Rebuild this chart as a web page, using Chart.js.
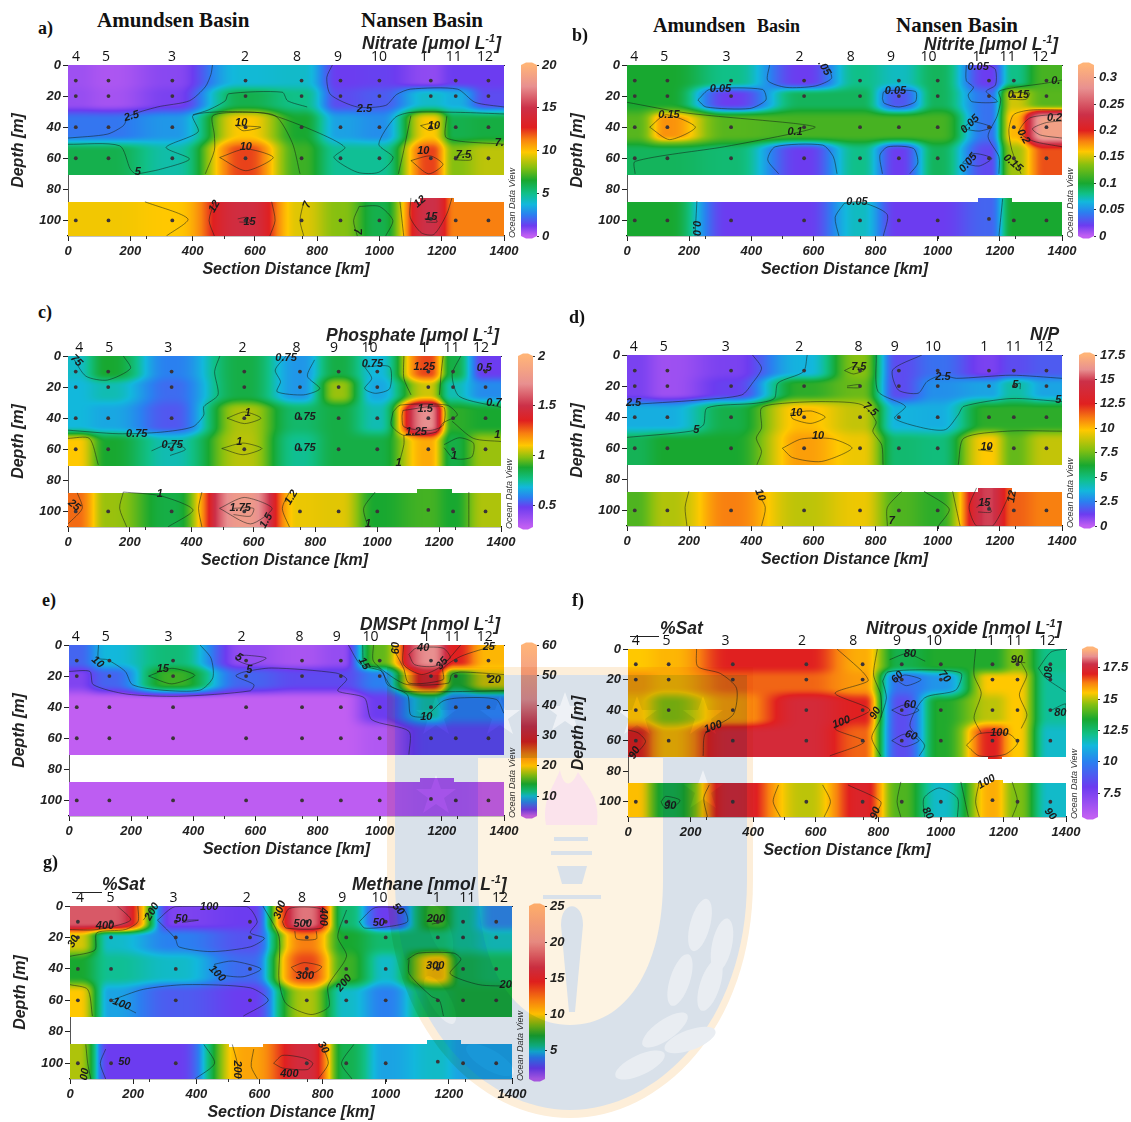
<!DOCTYPE html>
<html><head><meta charset="utf-8">
<style>
html,body{margin:0;padding:0;background:#fff;width:1131px;height:1122px;overflow:hidden}
canvas{position:absolute}
.t{position:absolute;white-space:nowrap;transform:translateY(-50%);color:#1a1a1a;line-height:1}
.l{font:bold 18px "Liberation Serif",serif;color:#111}
.b{font:bold 21px "Liberation Serif",serif;color:#111}
.b2{font:bold 20px "Liberation Serif",serif;color:#111}
.s{font:bold 18px "Liberation Serif",serif;color:#111}
.h{font:italic bold 17.5px "Liberation Sans",sans-serif;color:#222}
.h sup{font-size:11px;line-height:0}
.r{position:absolute;height:1px;background:#222}
#wm{position:absolute;left:0;top:0;mix-blend-mode:multiply;pointer-events:none}
</style>
<script src="https://cdn.jsdelivr.net/npm/chart.js@4/dist/chart.umd.min.js"></script>
</head><body>
<svg id="wm" width="1131" height="1122" viewBox="0 0 1131 1122">
<defs><polygon id="st" points="0,-20 5,-6 20,-6 8,3 13,18 0,9 -13,18 -8,3 -20,-6 -5,-6"/>
<ellipse id="lf" cx="0" cy="0" rx="10" ry="27"/></defs>
<path d="M387 667H753V880C753 1030 660 1118 570 1118C480 1118 387 1030 387 880Z" fill="#fdeed9"/>
<path d="M395 675H747V880C747 1025 655 1110 570 1110C485 1110 395 1025 395 880Z" fill="#d9e1ea"/>
<path d="M478 758H663V880C663 970 625 1025 570 1025C515 1025 478 970 478 880Z" fill="#fdf3e2"/>
<g fill="#fff" opacity=".55"><use href="#st" x="436" y="716"/><use href="#st" x="500" y="716"/><use href="#st" x="565" y="712"/><use href="#st" x="637" y="716"/><use href="#st" x="703" y="716"/><use href="#st" x="436" y="795"/><use href="#st" x="703" y="790"/></g>
<path d="M546 825C542 800 552 790 560 770C563 785 570 790 578 772C590 790 600 800 597 825Z" fill="#fbe3ec"/>
<g fill="#d9e1ea"><rect x="554" y="837" width="34" height="4"/><rect x="551" y="851" width="41" height="4"/><path d="M557 866H587L582 884H562Z"/><rect x="543" y="895" width="58" height="4"/><path d="M561 925C561 900 583 900 583 925L575 1012H569Z"/></g>
<g fill="#e9edf2"><use href="#lf" transform="translate(700 925) rotate(15)"/><use href="#lf" transform="translate(722 945) rotate(12)"/><use href="#lf" transform="translate(680 980) rotate(18)"/><use href="#lf" transform="translate(710 985) rotate(18)"/><use href="#lf" transform="translate(665 1030) rotate(55)"/><use href="#lf" transform="translate(640 1065) rotate(65)"/><use href="#lf" transform="translate(690 1040) rotate(70)"/><use href="#lf" transform="translate(440 930) rotate(-20)"/><use href="#lf" transform="translate(440 1000) rotate(-30)"/><use href="#lf" transform="translate(490 1060) rotate(-60)"/></g>
</svg>
<script>
// ---------- shared axes ----------
const stationKm=[25,130,335,570,750,875,1000,1165,1245,1350];
const stationNames=['4','5','3','2','8','9','10','1','11','12'];
const depthRows=[10,20,40,60,100];
const xTicks=[0,200,400,600,800,1000,1200,1400];
const yTicks=[0,20,40,60,80,100];
const minorKm=[250,500,750,1000,1250];
const paletteColors=['#c15ff2','#6c3cf0','#2a80f0','#12b8dc','#10c088','#18a830','#86c010','#ffc800','#f88010','#e02020','#cc3048','#e89090','#ffb478'];

// ---------- a) nitrate ----------
const nitrateValues=[[.5,.3,.8,3.8,4,1.2,1.3,.7,1.2,1.2],[.6,.4,1,6,5,1.5,1.8,4,3.5,1.5],[2.3,2.3,3,9.8,6.5,3.2,2.8,9.8,6,6.2],[6,6,4.5,12.2,7,4.8,4.8,12.2,8,8.8],[9.6,9.6,9.8,14.6,9.3,8,6,15,11.3,11.3]];
const nitrateKnots=[0,1.2,2.5,3.7,5,6.5,8,9.8,11.3,12.7,15,17.5,20];
const nitrateBar=[0,5,10,15,20];
const nitrateTop=[26,122,334,568,735,867,999,1143,1239,1339];
const nitrateContours=[
[[0,47],[126,44.5],[178,39],[195,33],[287,27],[390,23],[441,14],[459,6],[464,0]],
[[849,0],[831,8],[843,19],[929,27],[1020,26],[1055,19],[1100,15.5],[1250,15.5],[1307,24],[1400,27]],
[[0,51],[166,52],[200,67],[218,70.5]],
[[218,70.3],[298,67],[390,60.5],[315,53],[418,43],[401,32.5],[516,30],[642,31.5],[797,43],[889,53],[854,59.5],[929,69],[998,69],[1044,59.5],[998,51],[1049,34],[1101,30.5],[1261,30.5],[1400,31.5]],
[[441,70],[470,55],[470,45],[465,32.6],[560,30.5],[665,32.6],[720,50],[745,70]],
[[401,32],[450,29],[505,23],[516,18.5],[688,17.5],[705,23],[768,27]],
[[487,59.5],[571,54],[659,59.5],[571,68],[487,59.5]],
[[539,39],[619,40],[562,42.3],[539,39]],
[[1061,70],[1078,55],[1101,32.6]],[[1216,33],[1216,47],[1400,51]],
[[1101,61.5],[1164,58.5],[1204,64],[1158,70],[1101,61.5]],
[[1132,39],[1170,37.5],[1190,40],[1160,42],[1132,39]],
[[1240,59],[1290,57],[1295,61],[1240,61]],
[[247,88],[385,99],[316,110]],[[470,88],[453,100],[470,110]],[[654,88],[665,100],[648,110]],
[[757,88],[745,100],[757,110]],[[935,91],[917,100],[929,110]],[[935,91],[1000,91],[1043,100],[1020,110]],
[[1066,88],[1078,110]],[[1101,85.5],[1099,98],[1135,108],[1175,109],[1216,96],[1233,85.5]],
[[545,99],[575,98],[585,101],[550,101]],[[1145,99],[1175,98],[1185,101],[1150,101]]];
const nitrateLabels=[[204,33,'2.5',-15],[952,28,'2.5',0],[556,37,'10',0],[571,53,'10',0],[1175,39,'10',0],[1141,55,'10',0],[1270,58,'7.5',0],[224,69,'5',0],[1385,50,'7.',0],[583,101,'15',0],[1166,98,'15',0],[470,91,'12',-60],[929,107,'7',90],[768,90,'7',-70],[1130,88,'12',-40]];

// ---------- b) nitrite ----------
const nitriteValues=[[.1,.1,.08,.02,.08,.07,.09,.02,.08,.115],[.1,.1,.02,.09,.09,.03,.09,.04,.15,.12],[.12,.175,.12,.115,.115,.115,.115,.04,.165,.3],[.09,.09,.085,.02,.08,.02,.09,.025,.14,.19],[.1,.1,.02,.02,.07,.02,.02,.035,.1,.1]];
const nitriteKnots=[0,.02,.045,.065,.08,.1,.135,.16,.18,.2,.23,.28,.3243];
const nitriteBar=[0,.05,.1,.15,.2,.25,.3];
const nitriteTop=[23,120,320,555,720,850,970,1125,1225,1330];
const nitriteContours=[
[[0,24],[196,31],[535,37.5],[606,40],[535,44],[313,52.6],[26,62],[26,70]],
[[73,40],[126,32],[220,40],[137,48],[73,40]],
[[228,22.5],[266,15.7],[436,15.7],[447,22.5],[395,28],[254,27],[228,22.5]],
[[459,0],[453,10],[512,14.4],[606,13.5],[658,8.6],[647,1]],
[[488,70],[453,61],[477,52.6],[629,51.5],[664,59],[676,70]],
[[822,21.5],[828,17],[928,17],[928,23.6],[875,27],[828,24.6],[822,21.5]],
[[822,70],[814,58],[840,52.6],[922,53.7],[936,63],[910,70]],
[[1092,0],[1092,10],[1115,14.4],[1098,19.3],[1110,23.6],[1192,23.6],[1156,17],[1186,12.9],[1186,3],[1163,0]],
[[1080,41],[1110,36.5],[1174,40],[1133,42.5],[1080,41]],
[[1080,63],[1115,57],[1174,60],[1133,65],[1080,63]],
[[1197,70],[1197,59],[1162,46],[1191,33],[1203,22.5],[1197,17],[1250,14.4],[1344,11.8],[1400,9.7]],
[[1268,70],[1239,55],[1229,42],[1244,32],[1297,29],[1400,29]],
[[1230,18],[1295,18],[1285,22],[1230,22]],
[[1400,52.6],[1308,49],[1262,43],[1297,34],[1400,31.5]],
[[1400,47],[1330,45],[1305,41],[1350,37],[1400,36]],
[[225,87.5],[219,110]],[[699,89],[670,98],[682,110]],[[699,89],[750,88],[837,96],[825,110]],[[1209,86],[1197,110]]];
const nitriteLabels=[[301,15.5,'0.05',0],[135,32,'0.15',0],[541,43,'0.1',0],[864,16.5,'0.05',0],[1260,19,'0.15',0],[1376,34,'0.2',0],[1276,46,'0.2',60],[1242,63,'0.15',40],[1104,38,'0.05',-45],[1098,63,'0.05',-50],[635,2,'.05',60],[1130,1,'0.05',0],[740,88,'0.05',0],[222,105,'0.0',90],[1380,10,'0.',0]];

// ---------- c) phosphate ----------
const phosphateValues=[[.7,.88,.58,.85,.62,.85,.68,1.3,.85,.48],[.68,.72,.55,.85,.62,1,.65,1.05,.72,.6],[.68,.65,.52,1.02,.8,.85,.72,1.72,.9,.88],[1.1,.88,.72,1.03,.75,.85,.85,1.15,.85,1],[1.25,1,.85,1.8,1.08,1.07,.88,.92,.88,1.02]];
const phosphateKnots=[.28,.48,.58,.68,.76,.88,.98,1.1,1.22,1.35,1.5,1.72,2];
const phosphateBar=[.5,1,1.5,2];
const phosphateTop=[36,133,324,564,739,860,975,1152,1240,1335];
const phosphateContours=[
[[0,47.7],[162,50],[300,49],[404,45.5],[439,38],[439,32.6],[485,25],[474,10],[491,0]],
[[17,1.5],[58,13],[127,15.5],[202,8],[179,0]],
[[514,40],[571,36],[624,40],[571,43.5],[514,40]],[[497,59.5],[566,56],[627,59.5],[566,63.5],[497,59.5]],
[[705,0],[670,9],[687,16.5],[676,23],[762,25],[814,21],[774,13],[797,2.5]],
[[959,7],[1040,7],[1040,21],[994,24],[959,21],[982,14.4],[959,7]],
[[1086,0],[1086,14.4],[1109,25]],[[1213,0],[1207,10],[1201,25]],
[[1051,36],[1074,31.6],[1225,31.6],[1259,38],[1213,43],[1190,49],[1086,51],[1045,44.5],[1051,36]],
[[1083,35],[1213,32.6],[1213,44.5],[1167,48],[1086,45.5],[1080,39],[1083,35]],
[[1086,51],[1086,57],[1069,70]],
[[1216,57],[1265,52.6],[1311,56],[1305,65],[1248,66],[1216,59]],
[[0,53],[69,53],[98,70]],[[1270,0],[1242,12],[1265,26],[1400,33]],[[1242,42],[1311,53],[1400,55]],
[[0,108],[46,98],[30,88]],[[179,87.5],[167,98],[190,110]],[[179,87.5],[300,90],[404,99],[323,110]],
[[433,87.5],[422,98],[433,110]],[[716,87.5],[693,98],[716,110]],
[[490,98],[570,91],[660,98],[590,108],[490,98]],[[530,98],[600,98],[590,103],[535,102]],
[[993,87.5],[956,98],[970,110]],[[1296,87.5],[1296,110]],[[270,61],[335,56],[380,60],[330,64]]];
const phosphateLabels=[[222,50,'0.75',0],[337,57,'0.75',0],[581,36.5,'1',0],[554,55,'1',0],[766,39,'0.75',0],[766,59,'0.75',0],[984,5,'0.75',0],[1152,7,'1.25',0],[1155,34,'1.5',0],[1126,49,'1.25',0],[1248,64,'1',0],[1346,7.5,'0.5',0],[1377,30,'0.7',0],[1388,51,'1',0],[557,97.5,'1.75',0],[641,106,'1.5',-60],[20,96,'25',40],[297,89,'1',0],[722,91,'1.2',-60],[970,108,'1',0],[1069,69,'1',0],[705,1.5,'0.75',0],[27,3,'75',45]];

// ---------- d) N/P ----------
const npValues=[[1,.5,1,3.5,7.8,1.5,2.2,1,1.5,1.8],[1,.5,1.3,6.5,7.4,1.5,2.8,3.2,4.4,3.2],[3.4,3.4,5.8,10,8.8,3.5,3.4,6.5,6.5,6.5],[5.6,6.2,6.2,10.5,9.5,5.2,5,9.8,7.3,8.8],[7,8.5,11,8.7,9.5,7,6.5,15,11.5,11]];
const npKnots=[0,1.2,2.5,3.6,4.8,6.2,7.8,9.8,11,12.5,14.8,16,17.5];
const npBar=[0,2.5,5,7.5,10,12.5,15,17.5];
const npTop=[22,118,318,554,745,862,985,1150,1245,1346];
const npContours=[
[[0,32],[228,29],[369,25.7],[404,18],[433,8.5],[404,0]],
[[0,53],[205,49],[246,45],[258,34],[416,31],[474,28],[486,18],[568,10.7],[580,0]],
[[418,70.6],[433,62],[416,53.5],[433,47],[433,34],[508,31],[638,30],[756,32],[802,43],[791,49],[820,58],[824,70.6]],
[[527,37.5],[592,36],[638,40],[592,44],[533,41],[527,37.5]],
[[500,60],[562,54],[662,54],[724,60],[626,68.5],[533,66],[500,60]],
[[802,0],[808,23.5],[896,33],[861,40.7],[955,47],[1025,48],[1066,38.5],[1084,33],[1236,28],[1400,30]],
[[949,0],[855,9.6],[873,22.5],[937,24.6],[966,17],[1013,13],[1060,15],[1236,13],[1400,15]],
[[1066,70.6],[1084,53.5],[1224,49],[1400,49]],
[[700,10],[729,7.5],[764,9.6],[729,12.2],[700,10]],[[708,20],[750,19],[750,21],[708,21]],
[[1130,61],[1177,62]],[[1240,21],[1265,18],[1265,22]],
[[199,87.7],[187,98],[193,110]],[[416,87.7],[445,98],[433,110]],
[[884,87.7],[838,98],[838,110]],[[956,87.7],[1037,99],[1002,110]],[[1048,87.7],[1072,110]],
[[1125,85.5],[1101,98],[1125,110],[1177,110],[1236,87.7]],
[[1125,98],[1155,95],[1172,101],[1130,101]]];
const npLabels=[[746,7.5,'7.5',0],[1017,14,'2.5',0],[1250,19,'5',0],[545,37,'10',0],[783,35,'7.5',40],[21,31,'2.5',0],[223,48,'5',0],[1388,29,'5',0],[615,52,'10',0],[1157,59,'10',0],[428,90,'10',70],[1150,95,'15',0],[1239,91,'12',-80],[852,107,'7',0]];

// ---------- e) DMSPt ----------
const dmspValues=[[7,10,12,4.5,4,4.5,16,42,28,21],[5,7,15,7,6,6,8,30,14,19],[3.4,3.4,3.4,3.4,3.4,3.4,5.5,11,8,8],[3.4,3.4,3.4,3.4,3.4,3.4,3.8,6,6,6],[3.5,3.5,3.5,3.5,3.5,3.5,3.5,3.8,3.8,3.6]];
const dmspKnots=[3.4,5.5,8,10,11.5,14,17,20,24,28,33,42,60];
const dmspBar=[10,20,30,40,50,60];
const dmspTop=[22,118,320,555,742,862,970,1150,1235,1338];
const dmspContours=[
[[0,17],[67,17],[78,25.5],[183,31.5],[353,33],[583,29.5],[595,25.5],[537,20],[560,17.5],[652,14.8],[859,18],[894,22],[865,29.5],[951,34],[974,48],[1094,55.5],[1094,70.5]],
[[95,0],[95,8.5],[124,9.5],[181,17],[204,25.5],[296,29],[422,29],[463,21],[457,8.5],[422,0]],
[[256,20],[331,15],[405,19.5],[331,25],[256,20]],
[[537,7],[571,6.6],[635,8.4],[583,12.7],[537,9.4],[537,7]],
[[899,0],[939,12.6],[1008,17],[1025,25.5],[1089,32],[1100,45],[1146,46],[1204,36],[1261,34],[1375,35],[1400,44]],
[[945,0],[951,12.6],[997,14.8],[1037,26.6],[1089,30],[1400,29.4]],
[[980,0],[980,10.5],[1043,21],[1089,25.5],[1221,24.5],[1232,19],[1261,17.4],[1400,19]],
[[1037,0],[1077,15],[1094,24.5],[1204,22.3],[1204,15],[1261,7.3],[1375,0]],
[[1077,0],[1077,12.6],[1135,19],[1198,13.7],[1261,0]],
[[1094,6],[1117,2],[1204,2],[1227,8.4],[1175,13.7],[1112,12.6],[1094,6]]];
const dmspLabels=[[92,11,'10',40],[302,15.4,'15',0],[547,8,'5',30],[580,16,'5',0],[949,12,'15',60],[1140,1.7,'40',0],[1201,12,'35',-50],[1351,1,'25',0],[1370,22.5,'20',0],[1150,46.5,'10',0],[1052,2,'60',-90]];

// ---------- f) nitrous oxide ----------
const n2oValues=[[15.5,15.7,17,17,15.8,13,13.5,13.5,14.5,12.2],[16,15.7,16.5,16.5,16,9.5,10.5,15.5,15.5,12],[15.6,14.6,16,17.5,17,8.5,13.5,15,15.5,12],[17,15.7,17.5,17.5,16.5,8.5,13.5,17,15.5,11.5],[15.5,13,17.5,15,17.2,14,11.5,15.8,14.5,11.5]];
const n2oKnots=[5.6,8,10,11.3,12.2,13.4,14.6,15.5,16.3,17,17.8,18.4,19];
const n2oBar=[7.5,10,12.5,15,17.5];
const n2oTop=[25,123,312,556,720,860,978,1160,1235,1340];
const n2oContours=[
[[219,0],[223,11.5],[295,16],[347,25.7],[336,43],[248,55],[240,70]],
[[668,0],[750,15],[767,21],[662,29],[773,40],[662,52],[756,60.6],[645,70]],
[[797,0],[785,17],[808,30],[808,45],[779,58],[808,70]],
[[814,21],[831,15],[971,13.7],[1065,16],[1047,27],[948,32],[901,50],[948,63],[931,70]],
[[814,21],[826,32],[808,45]],[[836,7],[892,3],[950,8]],
[[855,20],[884,17],[937,20],[890,24],[855,20]],[[843,40],[884,36.6],[930,40],[884,43.6],[843,40]],[[843,60],[884,55.8],[930,60],[884,64],[843,60]],
[[1111,0],[1106,17],[1129,29],[1106,45],[1129,55]],[[1257,9],[1275,17],[1251,30],[1275,43],[1257,52]],
[[1082,63],[1123,55.5],[1216,55.5],[1245,61.6],[1205,69],[1123,70],[1082,63]],
[[1225,8],[1270,9]],[[1312,12.6],[1335,19],[1400,28]],[[1312,12.6],[1352,2],[1400,0]],[[1354,40],[1400,36],[1400,44]],
[[0,53],[33,55],[56,60.6],[27,68],[0,70]],
[[260,88.9],[242,97.6],[254,110]],[[481,89],[464,99.8],[487,110]],[[622,89],[647,99.8],[627,110]],[[703,89],[808,100],[785,110]],
[[106,100],[120,96.5],[166,99],[143,104],[114,103],[106,100]],
[[872,87],[860,100],[872,110]],[[948,110],[946,97.6],[995,91],[1053,97.6],[1053,110]],[[1064,87],[1088,110]],[[1228,87],[1245,100],[1228,110]],[[1123,87],[1111,100],[1123,110]]];
const n2oLabels=[[901,3,'80',0],[1243,7,'90',0],[1339,15,'80',90],[861,18.5,'60',-45],[1012,18,'70',50],[901,36.6,'60',0],[791,42,'90',-60],[272,51,'100',-20],[682,48,'100',-20],[905,56.6,'60',20],[1187,54.7,'100',0],[1382,42,'80',0],[21,68,'90',-60],[135,103,'90',0],[791,107.5,'90',-70],[958,107.5,'80',60],[1350,108,'90',50],[1146,87,'100',-30]];

// ---------- g) methane ----------
const ch4Values=[[18,18,2.2,2.5,19,6,2.5,7.5,5.5,4],[9.5,5,4,3,12,7,6,6,5.5,5],[7,5.5,5,3.5,13.5,7.5,5,10.5,6.5,6.2],[10,4.5,3.2,2.5,9,5,4,6.5,6.8,6.8],[9,2.5,2.5,11,16,6.5,4.5,5,4.5,4.5]];
const ch4Knots=[1,2.5,4,4.8,5.6,7,8.5,10,12,14.5,16.5,20,25];
const ch4Bar=[5,10,15,20,25];
const ch4Top=[32,128,328,560,735,862,980,1162,1258,1362];
const ch4Contours=[
[[215,0],[215,10],[175,15],[85,17],[79,28],[0,32]],[[266,0],[232,9]],[[0,15],[85,15],[192,9],[150,0]],
[[277,9],[333,.4],[560,.4],[593,10],[571,17],[616,20.5],[571,26],[447,29],[345,26],[333,20.5],[277,9]],
[[355,9],[407,9],[355,10.5]],
[[458,37],[515,35],[605,40],[548,45],[469,43],[458,37]],
[[130,60],[232,53],[367,50],[571,52],[628,60],[549,70]],[[130,60],[209,68]],
[[611,0],[662,19.5],[662,47],[684,62],[763,69],[820,64],[817,51],[876,32],[848,19.5],[876,2.5]],
[[673,10],[684,14],[797,14],[808,7],[791,1.5],[695,1.5],[673,10]],
[[712,16],[718,21],[780,21],[780,16]],[[701,39],[741,36],[797,38.5],[775,42.3],[718,42.3],[701,39]],
[[916,10],[967,1],[1057,2.5],[1069,10],[1012,13],[933,14],[916,10]],
[[1135,9],[1180,10],[1146,11.5]],
[[1069,34],[1103,30],[1216,30],[1238,34],[1204,43],[1295,50],[1400,51]],
[[1074,34],[1074,43],[1145,57.5],[1170,60],[1183,70]],[[1130,38],[1170,36],[1150,41]],
[[0,50],[56,53],[71,70]],[[50,88],[56,100],[66,110]],
[[113,91],[96,100],[113,110]],[[424,88],[458,100],[396,110]],[[514,88],[530,100],[534,110]],
[[582,91],[574,102],[594,110]],[[797,88],[818,100],[786,110]],
[[645,100],[673,95],[741,96.7],[769,100],[752,104],[673,103],[645,100]],[[899,88],[860,100],[893,110]]];
const ch4Labels=[[260,3.6,'200',-60],[665,2.5,'300',-70],[111,13,'400',0],[737,11.4,'500',0],[800,6.8,'400',90],[353,8.5,'50',0],[978,10.6,'50',0],[1040,2,'50',50],[441,.4,'100',0],[1159,8,'200',0],[1157,38,'300',0],[744,44.4,'300',0],[466,43,'100',45],[164,62.4,'100',20],[868,49,'200',-50],[1380,50.5,'20',0],[11,22.6,'30',-60],[172,99,'50',0],[529,104,'200',90],[695,106.6,'400',0],[802,90,'30',60],[47,107,'00',-80]];

// ---------- panel table ----------
const stdColorTab=[[1130,1240,85.5,88]];
const panels=[
{v:nitrateValues,k:nitrateKnots,bar:nitrateBar,top:nitrateTop,c:nitrateContours,lab:nitrateLabels,box:[68,504,64.5,235],cb:[521,16],colorTabs:stdColorTab,whiteTabs:[]},
{v:nitriteValues,k:nitriteKnots,bar:nitriteBar,top:nitriteTop,c:nitriteContours,lab:nitriteLabels,box:[626.6,1061.8,65,235.7],cb:[1078,16],colorTabs:stdColorTab,whiteTabs:[]},
{v:phosphateValues,k:phosphateKnots,bar:phosphateBar,top:phosphateTop,c:phosphateContours,lab:phosphateLabels,box:[68,500.7,356,526.7],cb:[518,15],colorTabs:stdColorTab,whiteTabs:[]},
{v:npValues,k:npKnots,bar:npBar,top:npTop,c:npContours,lab:npLabels,box:[627.4,1062.5,355,526.3],cb:[1079,16],colorTabs:stdColorTab,whiteTabs:[]},
{v:dmspValues,k:dmspKnots,bar:dmspBar,top:dmspTop,c:dmspContours,lab:dmspLabels,box:[68.6,504,645.3,816.3],cb:[521,16],colorTabs:stdColorTab,whiteTabs:[]},
{v:n2oValues,k:n2oKnots,bar:n2oBar,top:n2oTop,c:n2oContours,lab:n2oLabels,box:[628,1065.5,649,817.3],cb:[1082,16],colorTabs:[[1150,1195,70,72],[1160,1200,86,88]],whiteTabs:[]},
{v:ch4Values,k:ch4Knots,bar:ch4Bar,top:ch4Top,c:ch4Contours,lab:ch4Labels,box:[69.6,511.8,906,1079.3],cb:[529,16],colorTabs:[[1130,1240,85.5,88]],whiteTabs:[[505,612,87,89.5]],noDot:[[3,4]]}
];
const texts=[
['a)',38,28,'l'],['b)',572,35,'l'],['c)',38,312,'l'],['d)',569,317,'l'],['e)',42,600,'l'],['f)',572,600,'l'],['g)',43,862,'l'],
['Amundsen Basin',97,20,'b'],['Nansen Basin',361,20,'b'],['Amundsen',653,25,'b2'],['Basin',757,26,'s'],['Nansen Basin',896,25,'b'],
['Nitrate [μmol L<sup>-1</sup>]',362,43,'h'],['Nitrite [μmol L<sup>-1</sup>]',924,44,'h'],['Phosphate [μmol L<sup>-1</sup>]',326,335,'h'],['N/P',1030,334,'h'],
['DMSPt [nmol L<sup>-1</sup>]',360,624,'h'],['Nitrous oxide [nmol L<sup>-1</sup>]',866,628,'h'],['%Sat',660,628,'h'],['Methane [nmol L<sup>-1</sup>]',352,884,'h'],['%Sat',102,884,'h']
];
const rules=[[630,636,29],[72,892,30]];

// ---------- rendering helpers ----------
const hex=c=>[1,3,5].map(i=>parseInt(c.substr(i,2),16));
const pal=paletteColors.map(hex);
function colorOf(val,k){
  if(val<=k[0])return pal[0];
  for(let i=1;i<k.length;i++){ if(val<=k[i]){const t=(val-k[i-1])/(k[i]-k[i-1]);return pal[i].map((c,j)=>pal[i-1][j]+(c-pal[i-1][j])*t);} }
  return pal[pal.length-1];
}
const sstep=t=>{t=Math.max(0,Math.min(1,t));return t*t*t*(t*(6*t-15)+10);};
function bracket(arr,x){ if(x<=arr[0])return[0,0,0]; const n=arr.length-1; if(x>=arr[n])return[n,n,0];
  for(let i=0;i<n;i++) if(x<=arr[i+1]) return[i,i+1,(x-arr[i])/(arr[i+1]-arr[i])]; }
const rowWindows=[[0,1],[.2,.8],[.2,.8],[.25,.625]];
function fieldAt(v,km,d){
  const [a,b,t0]=bracket(stationKm,km); const tx=sstep(t0);
  const [r,s,u0]=bracket(depthRows,d); const w=rowWindows[r]||[0,1]; const ty=sstep((u0-w[0])/(w[1]-w[0]));
  const top=v[r][a]+(v[r][b]-v[r][a])*tx, bot=v[s][a]+(v[s][b]-v[s][a])*tx;
  return top+(bot-top)*ty;
}
const inTab=(tabs,km,d)=>tabs.some(t=>km>=t[0]&&km<=t[1]&&d>=t[2]&&d<=t[3]);
const SANS='"Liberation Sans",sans-serif';

const fieldPlugin={id:'field',
 beforeDatasetsDraw(ch,_a,o){
  const p=ch.config.options.panel,{left,top,width,height}=ch.chartArea,x=ch.scales.x,y=ch.scales.y;
  const W=Math.round(width),H=Math.round(height),cv=document.createElement('canvas');cv.width=W;cv.height=H;
  const g=cv.getContext('2d'),im=g.createImageData(W,H);
  for(let j=0;j<H;j++){const d=y.getValueForPixel(top+j+.5);
   for(let i=0;i<W;i++){const km=x.getValueForPixel(left+i+.5),q=(j*W+i)*4;
    let gap=d>70.7&&d<87.9; if(gap&&inTab(p.colorTabs,km,d))gap=false; if(!gap&&inTab(p.whiteTabs,km,d))gap=true;
    if(gap)continue;
    const c=colorOf(fieldAt(p.v,km,d),p.k);im.data[q]=c[0];im.data[q+1]=c[1];im.data[q+2]=c[2];im.data[q+3]=255;}}
  g.putImageData(im,0,0);ch.ctx.drawImage(cv,left,top);
 },
 afterDraw(ch){
  const p=ch.config.options.panel,c=ch.ctx,x=ch.scales.x,y=ch.scales.y,A=ch.chartArea;
  c.save();c.fillStyle='#1c1c1c';c.font='italic bold 11px '+SANS;c.textAlign='center';c.textBaseline='middle';
  p.lab.forEach(l=>{c.save();c.translate(x.getPixelForValue(l[0]),y.getPixelForValue(l[1]));c.rotate(l[3]*Math.PI/180);c.fillText(l[2],0,0);c.restore();});
  c.strokeStyle='#333';c.lineWidth=1;
  minorKm.forEach(k=>{const px=Math.round(x.getPixelForValue(k))+.5;c.beginPath();c.moveTo(px,A.bottom);c.lineTo(px,A.bottom+3);c.stroke();});
  c.translate(A.right+8,A.bottom-33);c.rotate(-Math.PI/2);c.font='italic 9px '+SANS;c.fillStyle='#333';c.fillText('Ocean Data View',0,0);
  c.restore();
 }};

const barPlugin={id:'bar',
 beforeDraw(ch){
  const p=ch.config.options.panel,c=ch.ctx,A=ch.chartArea,y=ch.scales.y;
  const g=c.createLinearGradient(0,A.top,0,A.bottom);
  const span=A.bottom-A.top;
  p.k.forEach((v,i)=>g.addColorStop(Math.min(1,Math.max(0,(y.getPixelForValue(v)-A.top)/span)),paletteColors[i]));
  c.save();c.fillStyle=g;c.beginPath();
  c.moveTo(A.left,A.top);c.lineTo(A.left+5,A.top-2.5);c.lineTo(A.right-5,A.top-2.5);c.lineTo(A.right,A.top);
  c.lineTo(A.right,A.bottom);c.lineTo(A.right-5,A.bottom+2.5);c.lineTo(A.left+5,A.bottom+2.5);c.lineTo(A.left,A.bottom);c.closePath();c.fill();c.restore();
 }};

const tickFont={family:'"Liberation Sans",sans-serif',size:13,weight:'bold',style:'italic'};
const titleFont={family:'"Liberation Sans",sans-serif',size:16,weight:'bold',style:'italic'};

function makeCanvas(l,t,w,h){const c=document.createElement('canvas');c.width=w;c.height=h;c.style.cssText=`left:${l}px;top:${t}px;width:${w}px;height:${h}px`;document.body.insertBefore(c,document.getElementById('wm'));return c;}

panels.forEach(p=>{
 const [L,R,T,B]=p.box,pl=62,pr=26,pt=24,pb=48;
 const cl=Math.round(L)-pl,ct=Math.round(T)-pt,pw=Math.round(R-L),ph=Math.round(B-T);
 const dots=[];
 stationKm.forEach((km,i)=>depthRows.forEach((d,r)=>{
  if(p.noDot&&p.noDot.some(n=>n[0]===i&&n[1]===r))return;
  dots.push({x:km,y:(i===7&&d===100)?99:d});}));
 const datasets=[{data:dots,pointRadius:1.9,pointBackgroundColor:'#3a3338',pointBorderWidth:0,showLine:false,order:0}];
 p.c.forEach(line=>datasets.push({data:line.map(q=>({x:q[0],y:q[1]})),showLine:true,pointRadius:0,tension:.25,borderWidth:.7,borderColor:'rgba(20,30,25,.75)',order:1}));
 new Chart(makeCanvas(cl,ct,pl+pw+pr,pt+ph+pb),{type:'scatter',data:{datasets},plugins:[fieldPlugin],options:{
  panel:p,animation:false,responsive:false,devicePixelRatio:1,events:[],
  layout:{padding:{left:0,top:0,right:pr,bottom:0}},
  plugins:{legend:{display:false},tooltip:{enabled:false}},
  scales:{
   x:{type:'linear',position:'bottom',min:0,max:1400,
    afterBuildTicks:s=>{s.ticks=xTicks.map(value=>({value}));},
    afterFit:s=>{s.height=pb;s.paddingLeft=0;s.paddingRight=0;},
    grid:{drawOnChartArea:false,tickLength:5,color:'#222'},border:{color:'#111',width:1.2},
    ticks:{font:tickFont,color:'#222',padding:3,maxRotation:0,autoSkip:false,callback:v=>String(v)},
    title:{display:true,text:'Section Distance [km]',font:titleFont,color:'#222',padding:{top:0,bottom:5}}},
   x2:{axis:'x',type:'linear',position:'top',min:0,max:1400,
    afterBuildTicks:s=>{s.ticks=p.top.map(value=>({value}));},
    afterFit:s=>{s.height=pt;s.paddingLeft=0;s.paddingRight=0;},
    grid:{display:false,drawTicks:false,tickLength:0},border:{color:'#223',width:1},
    ticks:{font:{family:'"Open Sans",sans-serif',size:14},color:'#111',padding:0,maxRotation:0,autoSkip:false,callback:(v,i)=>stationNames[i]}},
   y:{type:'linear',position:'left',reverse:true,min:0,max:110,
    afterBuildTicks:s=>{s.ticks=yTicks.map(value=>({value}));},
    afterFit:s=>{s.width=pl;s.paddingTop=0;s.paddingBottom=0;},
    grid:{drawOnChartArea:false,tickLength:5,color:'#222'},border:{color:'#555',width:1},
    ticks:{font:tickFont,color:'#222',padding:2,autoSkip:false,callback:v=>String(v)},
    title:{display:true,text:'Depth [m]',font:titleFont,color:'#222',padding:{top:3,bottom:0}}}
  }}});
 // colour bar: same value range as the palette knots of this panel
 const [bl,bw]=p.cb,pad=8;
 new Chart(makeCanvas(bl,ct+pt-pad,bw+44,ph+2*pad),{type:'scatter',data:{datasets:[{data:[]}]},plugins:[barPlugin],options:{
  panel:p,animation:false,responsive:false,devicePixelRatio:1,events:[],
  layout:{padding:{left:0,top:pad,right:0,bottom:pad}},
  plugins:{legend:{display:false},tooltip:{enabled:false}},
  scales:{x:{display:false,min:0,max:1},
   y:{type:'linear',position:'right',min:p.k[0],max:p.k[p.k.length-1],
    afterBuildTicks:s=>{s.ticks=p.bar.map(value=>({value}));},
    afterFit:s=>{s.width=44;s.paddingTop=0;s.paddingBottom=0;},
    grid:{drawOnChartArea:false,tickLength:2,color:'#333'},border:{display:false},
    ticks:{font:tickFont,color:'#222',padding:3,autoSkip:false,callback:v=>String(v)}}}
 }});
});

texts.forEach(t=>{const d=document.createElement('div');d.className='t '+t[3];d.innerHTML=t[0];d.style.left=t[1]+'px';d.style.top=t[2]+'px';document.body.insertBefore(d,document.getElementById('wm'));});
rules.forEach(r=>{const d=document.createElement('div');d.className='r';d.style.cssText=`left:${r[0]}px;top:${r[1]}px;width:${r[2]}px`;document.body.insertBefore(d,document.getElementById('wm'));});
</script>
</body></html>
